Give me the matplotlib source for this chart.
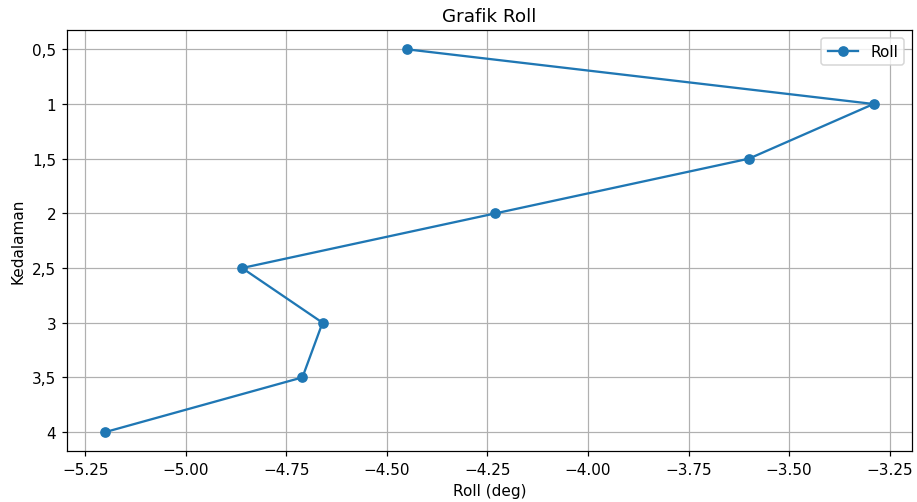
import matplotlib
matplotlib.use("Agg")
import matplotlib.pyplot as plt

kedalaman = ["0,5", "1", "1,5", "2", "2,5", "3", "3,5", "4"]
roll = [-4.45, -3.29, -3.60, -4.23, -4.86, -4.66, -4.71, -5.20]

DPI = 110
fig = plt.figure(figsize=(917 / DPI, 503 / DPI), dpi=DPI)
ax = fig.add_subplot(111)
ax.plot(roll, kedalaman, marker="o", label="Roll")
ax.invert_yaxis()
ax.set_title("Grafik Roll")
ax.set_xlabel("Roll (deg)")
ax.set_ylabel("Kedalaman")
ax.grid(True)
ax.legend(loc="upper right")
fig.subplots_adjust(left=0.073, right=0.9945, top=0.938, bottom=0.101)
fig.savefig("out.png", dpi=DPI)
